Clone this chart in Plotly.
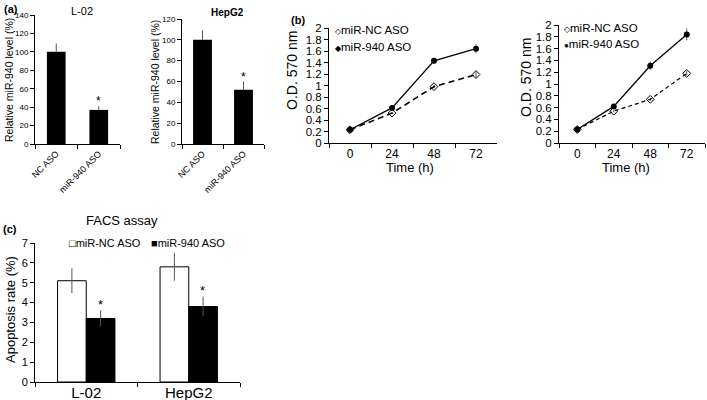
import plotly.graph_objects as go

# ---------------- data ----------------
a_cats = ["NC ASO", "miR-940 ASO"]
a_l02_vals = [100, 37]
a_l02_err = [9, 4]
a_hep_vals = [100, 52]
a_hep_err = [9, 8]

b_times = ["0", "24", "48", "72"]
b1_nc = [0.23, 0.52, 0.98, 1.19]
b1_nc_err = [0.01, 0.02, 0.03, 0.05]
b1_940 = [0.23, 0.61, 1.43, 1.64]
b1_940_err = [0.02, 0.03, 0.05, 0.08]
b2_nc = [0.23, 0.54, 0.74, 1.18]
b2_nc_err = [0.01, 0.02, 0.02, 0.04]
b2_940 = [0.23, 0.62, 1.31, 1.84]
b2_940_err = [0.02, 0.03, 0.07, 0.1]

c_cats = ["L-02", "HepG2"]
c_nc = [5.1, 5.8]
c_nc_err = [0.62, 0.7]
c_940 = [3.2, 3.8]
c_940_err = [0.4, 0.5]

W, H = 707, 400
FONT = "Liberation Sans, Arial, sans-serif"


def px(x):
    return x / W


def py(y):
    return 1 - y / H


fig = go.Figure()

err_style = dict(type="data", color="#555555", thickness=1, width=0)

# (a) L-02
fig.add_trace(go.Bar(x=a_cats, y=a_l02_vals, width=0.44, marker=dict(color="black", line=dict(width=0)),
                     error_y=dict(array=a_l02_err, arrayminus=[0, 0], **err_style),
                     xaxis="x", yaxis="y", showlegend=False))
# (a) HepG2
fig.add_trace(go.Bar(x=a_cats, y=a_hep_vals, width=0.46, marker=dict(color="black", line=dict(width=0)),
                     error_y=dict(array=a_hep_err, arrayminus=[0, 0], **err_style),
                     xaxis="x2", yaxis="y2", showlegend=False))

# (b) left
fig.add_trace(go.Scatter(x=b_times, y=b1_nc, mode="lines+markers", name="miR-NC ASO",
                         line=dict(color="black", width=1.6, dash="6px,4px"),
                         marker=dict(symbol="diamond-open", size=6, color="black", line=dict(width=1)),
                         error_y=dict(array=b1_nc_err, **err_style),
                         xaxis="x3", yaxis="y3", showlegend=False))
fig.add_trace(go.Scatter(x=b_times, y=b1_940, mode="lines+markers", name="miR-940 ASO",
                         line=dict(color="black", width=1.3),
                         marker=dict(symbol="circle", size=6, color="black"),
                         error_y=dict(array=b1_940_err, **err_style),
                         xaxis="x3", yaxis="y3", showlegend=False))
# (b) right
fig.add_trace(go.Scatter(x=b_times, y=b2_nc, mode="lines+markers", name="miR-NC ASO",
                         line=dict(color="black", width=1.2, dash="4px,3px"),
                         marker=dict(symbol="diamond-open", size=6, color="black", line=dict(width=1)),
                         error_y=dict(array=b2_nc_err, **err_style),
                         xaxis="x4", yaxis="y4", showlegend=False))
fig.add_trace(go.Scatter(x=b_times, y=b2_940, mode="lines+markers", name="miR-940 ASO",
                         line=dict(color="black", width=1.3),
                         marker=dict(symbol="circle", size=6, color="black"),
                         error_y=dict(array=b2_940_err, **err_style),
                         xaxis="x4", yaxis="y4", showlegend=False))

# (c)
fig.add_trace(go.Bar(x=c_cats, y=c_nc, name="miR-NC ASO", width=0.28, offset=-0.28,
                     marker=dict(color="white", line=dict(color="black", width=1)),
                     error_y=dict(array=c_nc_err, **err_style),
                     xaxis="x5", yaxis="y5", showlegend=False))
fig.add_trace(go.Bar(x=c_cats, y=c_940, name="miR-940 ASO", width=0.28, offset=0,
                     marker=dict(color="black", line=dict(color="black", width=1)),
                     error_y=dict(array=c_940_err, **err_style),
                     xaxis="x5", yaxis="y5", showlegend=False))

axis_common = dict(showline=True, linecolor="black", linewidth=1, showgrid=False, zeroline=False,
                   ticks="outside", tickcolor="black", ticklen=4, mirror=False, automargin=False)

fig.update_layout(
    template="none",
    width=W, height=H, margin=dict(l=0, r=0, t=0, b=0, autoexpand=False),
    paper_bgcolor="white", plot_bgcolor="white", barmode="overlay", showlegend=False,
    font=dict(family=FONT, color="black"),
    xaxis=dict(domain=[px(35), px(120)], anchor="y", type="category", tickson="boundaries",
               tickangle=-45, tickfont=dict(size=9), range=[-0.5, 1.5], **axis_common),
    yaxis=dict(domain=[py(144), py(15)], anchor="x", range=[0, 140], dtick=20,
               tickfont=dict(size=8), **axis_common),
    xaxis2=dict(domain=[px(182), px(264)], anchor="y2", type="category", tickson="boundaries",
                tickangle=-45, tickfont=dict(size=9), range=[-0.5, 1.5], **axis_common),
    yaxis2=dict(domain=[py(144), py(19)], anchor="x2", range=[0, 120], dtick=20,
                tickfont=dict(size=8), **axis_common),
    xaxis3=dict(domain=[px(329), px(497)], anchor="y3", type="category", tickson="boundaries",
                tickfont=dict(size=12), range=[-0.5, 3.5], **axis_common),
    yaxis3=dict(domain=[py(143), py(28)], anchor="x3", range=[0, 2], dtick=0.2,
                tickfont=dict(size=11.5), **axis_common),
    xaxis4=dict(domain=[px(559), px(705)], anchor="y4", type="category", tickson="boundaries",
                tickfont=dict(size=12), range=[-0.5, 3.5], **axis_common),
    yaxis4=dict(domain=[py(143), py(25)], anchor="x4", range=[0, 2], dtick=0.2,
                tickfont=dict(size=11.5), **axis_common),
    xaxis5=dict(domain=[px(35), px(240)], anchor="y5", type="category", tickson="boundaries",
                tickfont=dict(size=15), range=[-0.5, 1.5], ticklabelstandoff=-3, **axis_common),
    yaxis5=dict(domain=[py(382), py(243)], anchor="x5", range=[0, 7], dtick=1,
                tickfont=dict(size=11), **axis_common),
)

ann = []


def add_text(text, x, y, size, bold=False, angle=0, xanchor="center"):
    ann.append(dict(text=("<b>%s</b>" % text) if bold else text, x=px(x), y=py(y), xref="paper", yref="paper",
                    showarrow=False, font=dict(size=size, family=FONT, color="black"), textangle=angle,
                    xanchor=xanchor, yanchor="middle"))


add_text("(a)", 11, 9, 11, bold=True)
add_text("L-02", 82, 11, 11)
add_text("HepG2", 228, 12, 10, bold=True)
add_text("(b)", 298, 20, 11, bold=True)
add_text("(c)", 10, 229, 11, bold=True)
add_text("FACS assay", 122, 220, 13)
add_text("Relative miR-940 level (%)", 9, 80, 10.5, angle=-90)
add_text("Relative miR-940 level (%)", 155, 82, 10.5, angle=-90)
add_text("O.D. 570 nm", 292, 71, 14, angle=-90)
add_text("O.D. 570 nm", 526, 78, 14, angle=-90)
add_text("Time (h)", 410, 168, 13)
add_text("Time (h)", 626, 168, 13)
add_text("Apoptosis rate (%)", 10, 310, 13, angle=-90)

# legends drawn as text
SYM = "<span style='font-size:8px'>%s</span>"
add_text((SYM % "◇") + "miR-NC ASO", 333, 30, 11.5, xanchor="left")
add_text((SYM % "◆") + "miR-940 ASO", 333, 47, 11.5, xanchor="left")
add_text((SYM % "◇") + "miR-NC ASO", 562, 28, 11.5, xanchor="left")
add_text((SYM % "●") + "miR-940 ASO", 562, 44, 11.5, xanchor="left")
add_text("□miR-NC ASO", 67, 243, 11, xanchor="left")
add_text("■miR-940 ASO", 149, 243, 11, xanchor="left")

# significance stars
ann.append(dict(text="*", x=a_cats[1], y=a_l02_vals[1] + a_l02_err[1], xref="x", yref="y",
                showarrow=False, yanchor="bottom", font=dict(size=12, family=FONT), yshift=-4))
ann.append(dict(text="*", x=a_cats[1], y=a_hep_vals[1] + a_hep_err[1], xref="x2", yref="y2",
                showarrow=False, yanchor="bottom", font=dict(size=12, family=FONT), yshift=-4))
ann.append(dict(text="<b>*</b>", x=b_times[-1], y=b1_940[-1], xref="x3", yref="y3", showarrow=False,
                xshift=16, yshift=-2, font=dict(size=18, family=FONT)))
ann.append(dict(text="<b>*</b>", x=b_times[-1], y=b2_940[-1], xref="x4", yref="y4", showarrow=False,
                xshift=13, yshift=6, font=dict(size=18, family=FONT)))
for i in range(2):
    ann.append(dict(text="*", x=c_cats[i], y=c_940[i] + c_940_err[i], xref="x5", yref="y5",
                    showarrow=False, yanchor="bottom", xshift=14, yshift=-3, font=dict(size=13, family=FONT)))

fig.update_layout(annotations=ann)
fig.write_html("out.html", config={"displayModeBar": False},
               post_script="document.body.style.margin='0';document.body.style.padding='0';")
